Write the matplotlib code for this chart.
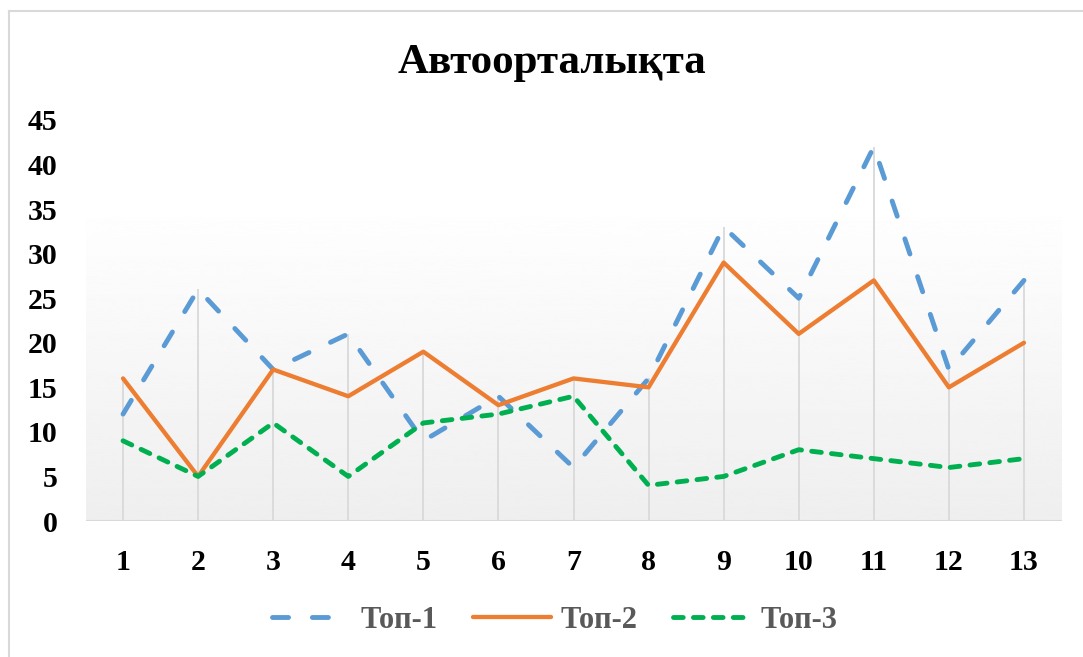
import numpy as np
import matplotlib
matplotlib.use("Agg")
import matplotlib.pyplot as plt
from matplotlib.lines import Line2D

title = "Автоорталықта"
categories = [1, 2, 3, 4, 5, 6, 7, 8, 9, 10, 11, 12, 13]
top1 = [12, 26, 17, 21, 9, 14, 6, 16, 33, 25, 42, 17, 27]
top2 = [16, 5, 17, 14, 19, 13, 16, 15, 29, 21, 27, 15, 20]
top3 = [9, 5, 11, 5, 11, 12, 14, 4, 5, 8, 7, 6, 7]
series_names = ["Топ-1", "Топ-2", "Топ-3"]
yticks = [0, 5, 10, 15, 20, 25, 30, 35, 40, 45]

plt.rcParams['font.family'] = ['Liberation Serif', 'DejaVu Serif']
plt.rcParams['font.weight'] = 'bold'

fig = plt.figure(figsize=(10.83, 6.57), dpi=100)
ax = fig.add_axes([85.5/1083, 1-521/657, 976/1083, 401/657])

x = np.array(categories)
n = len(categories)

# gradient plot-area fill (darker at bottom, white at top)
grad = np.linspace(0.935, 0.998, 256).reshape(-1, 1)
ax.imshow(grad, extent=(0.5, n + 0.5, 0, 35), origin='lower', aspect='auto',
          cmap='gray', vmin=0, vmax=1, zorder=0, interpolation='bicubic')
ax.set_ylim(0, 45)
ax.set_xlim(0.5, n + 0.5)

# drop lines
mx = np.maximum(np.maximum(top1, top2), top3)
ax.vlines(x, 0, mx, color='#d9d9d9', lw=1.3, zorder=1)
ax.axhline(0, color='#d9d9d9', lw=1.5, zorder=1)

l1, = ax.plot(x, top1, color='#5b9bd5', lw=3.5, dashes=(3.3, 4.9),
              dash_capstyle='round', zorder=3, label=series_names[0])
l2, = ax.plot(x, top2, color='#ed7d31', lw=3.1, solid_capstyle='round',
              zorder=4, label=series_names[1])
l3, = ax.plot(x, top3, color='#00b050', lw=3.5, dashes=(2.0, 2.1),
              dash_capstyle='round', zorder=5, label=series_names[2])

for s in ax.spines.values():
    s.set_visible(False)
ax.set_yticks(yticks)
ax.set_xticks(x)
ax.set_xticklabels([str(c) for c in categories])
ax.tick_params(axis='both', length=0, labelsize=21.5, labelcolor='black')
ax.tick_params(axis='y', pad=20)
ax.tick_params(axis='x', pad=20)
for t in ax.get_xticklabels() + ax.get_yticklabels():
    t.set_fontweight('bold')

fig.text(552/1083, 1-73/657, title, ha='center', va='baseline', fontsize=31,
         fontweight='bold', color='black')

leg = fig.legend(handles=[l1, l2, l3], loc='center', bbox_to_anchor=(555/1083, 1-620/657),
                 ncol=3, frameon=False, fontsize=22, handlelength=2.55,
                 columnspacing=1.15, handletextpad=0.33)
for t in leg.get_texts():
    t.set_color('#595959')
    t.set_fontweight('bold')

# chart border
fig.add_artist(Line2D([9/1083, 9/1083], [0, 1-10.5/657], transform=fig.transFigure,
                      color='#d9d9d9', lw=1.5))
fig.add_artist(Line2D([9/1083, 1], [1-10.5/657, 1-10.5/657], transform=fig.transFigure,
                      color='#d9d9d9', lw=1.5))

fig.savefig('out.png', dpi=100)
